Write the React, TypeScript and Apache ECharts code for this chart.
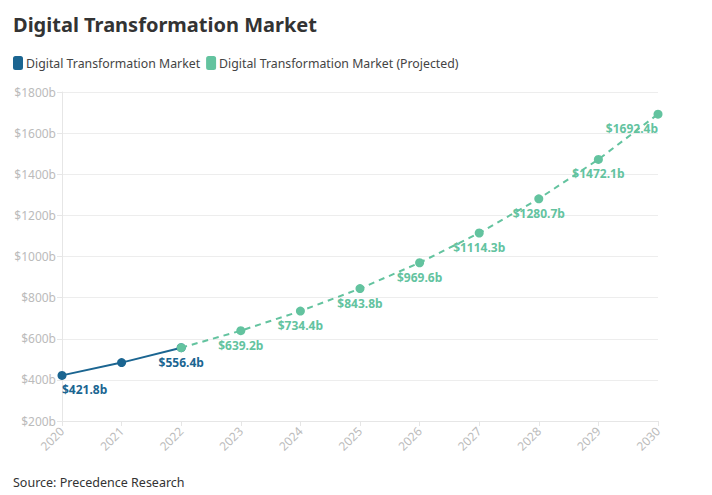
import React, { useEffect, useRef } from "react";
import * as echarts from "echarts";

const years = ["2020", "2021", "2022", "2023", "2024", "2025", "2026", "2027", "2028", "2029", "2030"];
const actualValues: (number | null)[] = [421.8, 484, 556.4, null, null, null, null, null, null, null, null];
const projectedValues: (number | null)[] = [null, null, 556.4, 639.2, 734.4, 843.8, 969.6, 1114.3, 1280.7, 1472.1, 1692.4];
const actualLabelShown = [true, false, true];

const BLUE = "#1b6591";
const GREEN = "#63c39f";
const FONT = "'Noto Sans', sans-serif";

export default function App() {
  const ref = useRef<HTMLDivElement>(null);
  useEffect(() => {
    if (!ref.current) return;
    const chart = echarts.init(ref.current, null, { renderer: "svg" });
    const lastIdx = years.length - 1;
    const fmt = (v: number) => "$" + v.toFixed(1) + "b";
    const actualData = actualValues.map((v, i) =>
      v == null
        ? null
        : {
            value: v,
            label: {
              show: !!actualLabelShown[i],
              align: i === 0 ? "left" : "center",
            },
          }
    );
    const projData = projectedValues.map((v, i) =>
      v == null
        ? null
        : {
            value: v,
            label: {
              show: i !== 2,
              align: i === lastIdx ? "right" : "center",
            },
          }
    );
    chart.setOption({
      animation: false,
      textStyle: { fontFamily: FONT },
      title: {
        text: "Digital Transformation Market",
        left: 8,
        top: 9,
        textStyle: { fontSize: 20, fontWeight: "bold", color: "#333", fontFamily: FONT },
      },
      legend: {
        left: 8,
        top: 51,
        icon: "roundRect",
        itemWidth: 10,
        itemHeight: 14,
        itemGap: 6,
        textStyle: { fontSize: 12.3, color: "#444", fontFamily: FONT, padding: [0, 0, 0, -2] },
        data: ["Digital Transformation Market", "Digital Transformation Market (Projected)"],
      },
      grid: { left: 62, right: 54, top: 92, bottom: 74, containLabel: false },
      xAxis: {
        type: "category",
        data: years,
        boundaryGap: false,
        axisLine: { lineStyle: { color: "#e6e6e6" } },
        axisTick: { show: true, alignWithLabel: true, length: 5, lineStyle: { color: "#e6e6e6" } },
        axisLabel: { rotate: 45, color: "#bbb", fontSize: 12, margin: 8, fontFamily: FONT },
        splitLine: { show: false },
      },
      yAxis: {
        type: "value",
        min: 200,
        max: 1800,
        interval: 200,
        axisLine: { show: true, lineStyle: { color: "#e6e6e6" } },
        axisTick: { show: true, length: 5, lineStyle: { color: "#e6e6e6" } },
        axisLabel: { color: "#bbb", fontSize: 12, margin: 6, formatter: (v: number) => "$" + v + "b", fontFamily: FONT },
        splitLine: { lineStyle: { color: "#ededed" } },
      },
      series: [
        {
          name: "Digital Transformation Market",
          type: "line",
          data: actualData,
          color: BLUE,
          symbol: "circle",
          symbolSize: 9,
          lineStyle: { width: 2, color: BLUE },
          itemStyle: { color: BLUE },
          label: {
            position: "bottom",
            distance: 4,
            color: BLUE,
            fontWeight: "bold",
            fontSize: 12,
            fontFamily: FONT,
            formatter: (p: any) => fmt(p.value),
          },
          z: 2,
        },
        {
          name: "Digital Transformation Market (Projected)",
          type: "line",
          data: projData,
          color: GREEN,
          symbol: "circle",
          symbolSize: 9,
          lineStyle: { width: 2, color: GREEN, type: [6, 5] },
          itemStyle: { color: GREEN },
          label: {
            position: "bottom",
            distance: 4,
            color: GREEN,
            fontWeight: "bold",
            fontSize: 12,
            fontFamily: FONT,
            formatter: (p: any) => fmt(p.value),
          },
          z: 3,
        },
      ],
      graphic: [
        {
          type: "text",
          left: 13,
          top: 476,
          style: { text: "Source: Precedence Research", fontSize: 12.5, fill: "#333", fontFamily: FONT },
        },
      ],
    });
    return () => chart.dispose();
  }, []);
  return <div ref={ref} style={{ width: 712, height: 495, position: "absolute", left: 0, top: 0 }} />;
}
